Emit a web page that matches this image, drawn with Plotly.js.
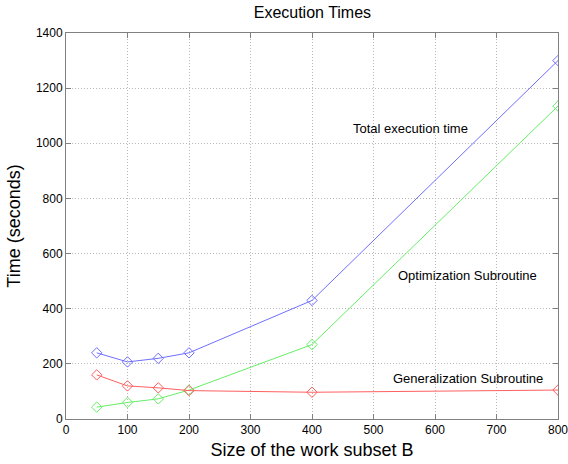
<!DOCTYPE html>
<html><head><meta charset="utf-8">
<script src="https://cdn.plot.ly/plotly-3.0.1.min.js"></script>
<style>html,body{margin:0;padding:0;background:#fff}#chart{width:568px;height:464px}</style>
</head><body><div id="chart"></div>
<script>
var subsetSize = [50, 100, 150, 200, 400, 800];
var totalTime = [240, 207, 220, 240, 430, 1300];
var optimizationTime = [43, 60, 73, 105, 270, 1135];
var generalizationTime = [160, 120, 113, 103, 97, 105];
var seriesNames = ["Total execution time", "Optimization Subroutine", "Generalization Subroutine"];
var xTicks = [0, 100, 200, 300, 400, 500, 600, 700, 800];
var yTicks = [0, 200, 400, 600, 800, 1000, 1200, 1400];

function tr(y, color, name) {
  return {x: subsetSize, y: y, name: name, type: 'scatter', mode: 'lines+markers',
    line: {color: color, width: 1},
    marker: {symbol: 'diamond-open', size: 8, color: color, line: {width: 1}}};
}
var data = [
  tr(totalTime, '#6f6fff', seriesNames[0]),
  tr(optimizationTime, '#66ee66', seriesNames[1]),
  tr(generalizationTime, '#ff5f5f', seriesNames[2])
];
var axisCommon = {showline: true, mirror: 'ticks', linecolor: '#808080', linewidth: 1,
  ticks: 'inside', ticklen: 5, tickcolor: '#808080', showgrid: true,
  gridcolor: '#b8b8b8', griddash: '1px,2px', gridwidth: 1, zeroline: false,
  ticklabeloverflow: 'allow',
  tickfont: {family: 'Liberation Sans, Arial, sans-serif', size: 12, color: '#000'}};
var layout = {
  width: 568, height: 464,
  margin: {l: 66, r: 10, t: 33, b: 45},
  paper_bgcolor: '#fff', plot_bgcolor: '#fff',
  showlegend: false,
  font: {family: 'Liberation Sans, Arial, sans-serif', color: '#000'},
  title: {text: 'Execution Times', x: 0.55, xanchor: 'center', y: 0.985, yanchor: 'top',
    font: {size: 16, color: '#000'}},
  xaxis: Object.assign({}, axisCommon, {range: [0, 800], tickvals: xTicks,
    title: {text: 'Size of the work subset B', font: {size: 18}, standoff: 6}}),
  yaxis: Object.assign({}, axisCommon, {range: [0, 1400], tickvals: yTicks,
    title: {text: 'Time (seconds)', font: {size: 18}, standoff: 10}}),
  annotations: [
    {x: 560, y: 1055, xref: 'x', yref: 'y', text: seriesNames[0], showarrow: false, font: {size: 13}},
    {x: 653, y: 522, xref: 'x', yref: 'y', text: seriesNames[1], showarrow: false, font: {size: 13}},
    {x: 653, y: 146, xref: 'x', yref: 'y', text: seriesNames[2], showarrow: false, font: {size: 13}}
  ]
};
Plotly.newPlot('chart', data, layout, {displayModeBar: false, staticPlot: true});
</script></body></html>
